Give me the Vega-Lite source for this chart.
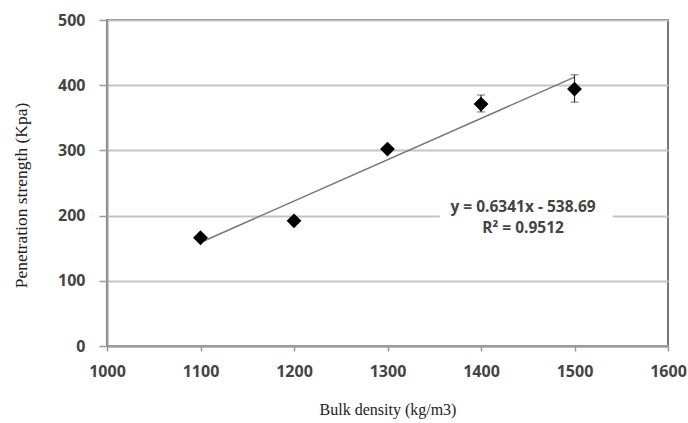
{
  "$schema": "https://vega.github.io/schema/vega-lite/v6.json",
  "width": 561,
  "height": 326,
  "autosize": {"type": "none"},
  "padding": {"left": 107, "top": 20, "right": 20, "bottom": 77},
  "background": "white",
  "config": {
    "view": {"stroke": "#777", "strokeWidth": 2},
    "axis": {
      "labelFont": "Open Sans",
      "labelFontWeight": "bold",
      "labelFontSize": 16,
      "labelColor": "#444",
      "labelFlush": false,
      "labelBound": false,
      "labelOverlap": false,
      "titleFont": "Liberation Serif",
      "titleFontWeight": "normal",
      "titleFontSize": 16,
      "titleColor": "#222",
      "domainColor": "#999",
      "domainWidth": 2,
      "tickColor": "#999",
      "tickWidth": 1.5,
      "gridColor": "#c4c4c4",
      "gridWidth": 2
    }
  },
  "datasets": {
    "points": [
      {"density": 1100, "strength": 166, "lo": 162, "hi": 170},
      {"density": 1200, "strength": 192, "lo": 189, "hi": 195},
      {"density": 1300, "strength": 302, "lo": 298, "hi": 306},
      {"density": 1400, "strength": 371, "lo": 359, "hi": 385},
      {"density": 1500, "strength": 394, "lo": 374, "hi": 416}
    ],
    "trend": [
      {"density": 1100, "strength": 158.82},
      {"density": 1500, "strength": 412.46}
    ],
    "label": [
      {"density": 1445, "strength": 213, "text": "y = 0.6341x - 538.69"},
      {"density": 1445, "strength": 181, "text": "R² = 0.9512"}
    ],
    "box": [
      {"x1": 1356, "x2": 1541, "y1": 170, "y2": 228}
    ]
  },
  "layer": [
    {
      "data": {"name": "box"},
      "mark": {"type": "rect", "fill": "white", "stroke": null},
      "encoding": {
        "x": {"field": "x1", "type": "quantitative", "scale": {"domain": [1000, 1600]},
          "axis": {"values": [1000, 1100, 1200, 1300, 1400, 1500, 1600], "grid": false, "title": "Bulk density  (kg/m3)", "tickSize": 5, "labelPadding": 12, "titlePadding": 22, "format": "d"}},
        "x2": {"field": "x2"},
        "y": {"field": "y1", "type": "quantitative", "scale": {"domain": [0, 500]},
          "axis": {"values": [0, 100, 200, 300, 400, 500], "grid": true, "title": "Penetration strength  (Kpa)", "titleFontSize": 17.5, "tickSize": 8, "labelPadding": 14, "titlePadding": 27, "titleY": 175}},
        "y2": {"field": "y2"}
      }
    },
    {
      "data": {"name": "trend"},
      "mark": {"type": "line", "color": "#777", "strokeWidth": 1.5},
      "encoding": {
        "x": {"field": "density", "type": "quantitative", "title": "Bulk density  (kg/m3)"},
        "y": {"field": "strength", "type": "quantitative", "title": "Penetration strength  (Kpa)"}
      }
    },
    {
      "data": {"name": "points"},
      "mark": {"type": "errorbar", "ticks": {"size": 8, "color": "#333"}, "rule": {"color": "#333", "strokeWidth": 1.2}},
      "encoding": {
        "x": {"field": "density", "type": "quantitative", "title": "Bulk density  (kg/m3)"},
        "y": {"field": "lo", "type": "quantitative", "title": "Penetration strength  (Kpa)"},
        "y2": {"field": "hi"}
      }
    },
    {
      "data": {"name": "points"},
      "mark": {"type": "point", "shape": "diamond", "filled": true, "color": "black", "size": 220, "opacity": 1},
      "encoding": {
        "x": {"field": "density", "type": "quantitative", "title": "Bulk density  (kg/m3)"},
        "y": {"field": "strength", "type": "quantitative", "title": "Penetration strength  (Kpa)"}
      }
    },
    {
      "data": {"name": "label"},
      "mark": {"type": "text", "font": "Open Sans", "fontWeight": "bold", "fontSize": 15.5, "color": "#444", "align": "center", "baseline": "middle"},
      "encoding": {
        "x": {"field": "density", "type": "quantitative", "title": "Bulk density  (kg/m3)"},
        "y": {"field": "strength", "type": "quantitative", "title": "Penetration strength  (Kpa)"},
        "text": {"field": "text"}
      }
    }
  ]
}
